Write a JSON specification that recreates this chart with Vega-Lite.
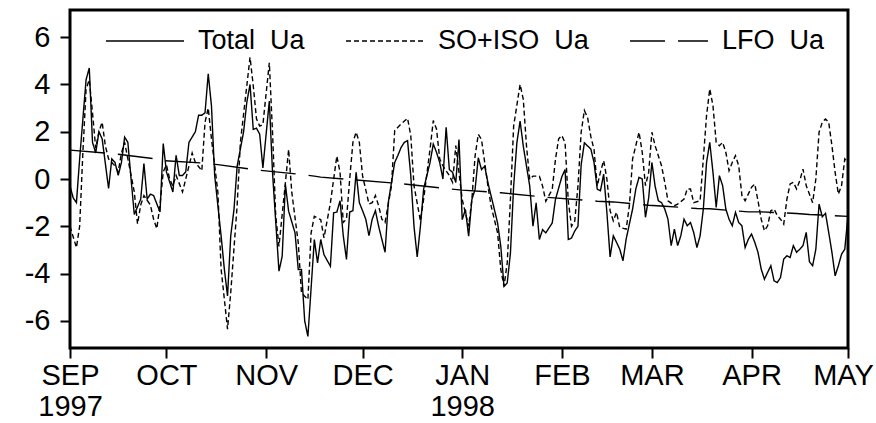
{
  "$schema": "https://vega.github.io/schema/vega-lite/v6.json",
  "width": 778,
  "height": 338,
  "autosize": {"type": "none"},
  "padding": {"left": 70, "top": 10, "right": 28, "bottom": 75},
  "background": "white",
  "config": {
    "view": {"stroke": "black", "strokeWidth": 3},
    "axis": {"grid": false, "domain": false, "tickColor": "black", "tickWidth": 2, "tickSize": 10, "labelColor": "black", "labelFont": "Liberation Sans, sans-serif", "labelFontSize": 29, "title": null}
  },
  "datasets": {
    "total": [
      {"t":"1997-09-01","v":-0.3},{"t":"1997-09-02","v":-0.8},{"t":"1997-09-03","v":-1.0},{"t":"1997-09-04","v":0.85},{"t":"1997-09-06","v":4.2},{"t":"1997-09-07","v":4.7},{"t":"1997-09-08","v":1.55},{"t":"1997-09-09","v":1.1},{"t":"1997-09-10","v":2.0},{"t":"1997-09-11","v":1.7},{"t":"1997-09-13","v":-0.4},{"t":"1997-09-14","v":0.85},{"t":"1997-09-15","v":0.7},{"t":"1997-09-16","v":0.15},{"t":"1997-09-17","v":0.7},{"t":"1997-09-18","v":1.77},{"t":"1997-09-19","v":1.55},{"t":"1997-09-20","v":0},{"t":"1997-09-21","v":-1.5},{"t":"1997-09-23","v":-0.85},{"t":"1997-09-24","v":0.65},{"t":"1997-09-25","v":-0.85},{"t":"1997-09-26","v":-0.64},{"t":"1997-09-27","v":-0.7},{"t":"1997-09-29","v":-1.4},{"t":"1997-09-30","v":1.5},
      {"t":"1997-10-01","v":0.3},{"t":"1997-10-03","v":-0.55},{"t":"1997-10-04","v":1.0},{"t":"1997-10-05","v":0.15},{"t":"1997-10-06","v":0.15},{"t":"1997-10-07","v":0.3},{"t":"1997-10-08","v":1.55},{"t":"1997-10-10","v":2.0},{"t":"1997-10-11","v":2.7},{"t":"1997-10-12","v":2.7},{"t":"1997-10-13","v":2.8},{"t":"1997-10-14","v":4.45},{"t":"1997-10-15","v":3.1},{"t":"1997-10-16","v":0.15},{"t":"1997-10-18","v":-2.4},{"t":"1997-10-19","v":-3.8},{"t":"1997-10-20","v":-4.95},{"t":"1997-10-21","v":-2.4},{"t":"1997-10-22","v":-1.3},{"t":"1997-10-23","v":0.55},{"t":"1997-10-25","v":2.0},{"t":"1997-10-26","v":3.25},{"t":"1997-10-27","v":4.0},{"t":"1997-10-28","v":2.1},{"t":"1997-10-29","v":2.15},{"t":"1997-10-30","v":1.9},{"t":"1997-10-31","v":0.47},
      {"t":"1997-11-02","v":3.3},{"t":"1997-11-03","v":0.26},{"t":"1997-11-05","v":-3.9},{"t":"1997-11-06","v":-3.27},{"t":"1997-11-07","v":-0.23},{"t":"1997-11-08","v":-1.36},{"t":"1997-11-10","v":-2.28},{"t":"1997-11-11","v":-3.83},{"t":"1997-11-12","v":-3.83},{"t":"1997-11-13","v":-6.0},{"t":"1997-11-14","v":-6.66},{"t":"1997-11-16","v":-2.56},{"t":"1997-11-17","v":-3.55},{"t":"1997-11-18","v":-2.56},{"t":"1997-11-19","v":-3.2},{"t":"1997-11-21","v":-3.69},{"t":"1997-11-22","v":-1.43},{"t":"1997-11-23","v":-1.4},{"t":"1997-11-24","v":-0.92},{"t":"1997-11-25","v":-2.4},{"t":"1997-11-26","v":-3.4},{"t":"1997-11-27","v":-1.4},{"t":"1997-11-28","v":-1.34},{"t":"1997-11-29","v":0.28},{"t":"1997-11-30","v":-1.0},
      {"t":"1997-12-01","v":-1.34},{"t":"1997-12-02","v":-1.7},{"t":"1997-12-03","v":-2.4},{"t":"1997-12-04","v":-1.7},{"t":"1997-12-05","v":-1.34},{"t":"1997-12-06","v":-2.0},{"t":"1997-12-08","v":-3.1},{"t":"1997-12-09","v":-1.0},{"t":"1997-12-11","v":0.7},{"t":"1997-12-12","v":1.0},{"t":"1997-12-13","v":1.34},{"t":"1997-12-14","v":1.55},{"t":"1997-12-15","v":1.62},{"t":"1997-12-16","v":0.14},{"t":"1997-12-17","v":-2.0},{"t":"1997-12-18","v":-3.3},{"t":"1997-12-19","v":-2.0},{"t":"1997-12-20","v":-0.42},{"t":"1997-12-22","v":0.7},{"t":"1997-12-23","v":1.48},{"t":"1997-12-24","v":1.13},{"t":"1997-12-25","v":0.7},{"t":"1997-12-26","v":0},{"t":"1997-12-27","v":2.19},{"t":"1997-12-28","v":0.4},{"t":"1997-12-29","v":0.28},{"t":"1997-12-30","v":-0.15},{"t":"1997-12-31","v":1.67},
      {"t":"1998-01-01","v":-1.72},{"t":"1998-01-02","v":-1.29},{"t":"1998-01-03","v":-2.42},{"t":"1998-01-04","v":-0.87},{"t":"1998-01-05","v":-0.44},{"t":"1998-01-06","v":0.9},{"t":"1998-01-07","v":0.4},{"t":"1998-01-08","v":0.54},{"t":"1998-01-09","v":-0.16},{"t":"1998-01-11","v":-1.29},{"t":"1998-01-12","v":-1.86},{"t":"1998-01-13","v":-2.85},{"t":"1998-01-14","v":-4.54},{"t":"1998-01-15","v":-4.4},{"t":"1998-01-16","v":-3.13},{"t":"1998-01-17","v":-0.3},{"t":"1998-01-18","v":1.53},{"t":"1998-01-19","v":2.45},{"t":"1998-01-20","v":1.39},{"t":"1998-01-22","v":-0.3},{"t":"1998-01-23","v":-2.0},{"t":"1998-01-24","v":-1.01},{"t":"1998-01-25","v":-2.56},{"t":"1998-01-26","v":-2.14},{"t":"1998-01-27","v":-2.28},{"t":"1998-01-29","v":-1.86},{"t":"1998-01-30","v":-0.87},
      {"t":"1998-02-01","v":0.1},{"t":"1998-02-02","v":0.4},{"t":"1998-02-03","v":-2.56},{"t":"1998-02-04","v":-2.5},{"t":"1998-02-05","v":-2.2},{"t":"1998-02-06","v":-2.0},{"t":"1998-02-07","v":0.6},{"t":"1998-02-08","v":1.53},{"t":"1998-02-09","v":1.4},{"t":"1998-02-10","v":1.27},{"t":"1998-02-11","v":0.7},{"t":"1998-02-12","v":-0.43},{"t":"1998-02-13","v":-0.5},{"t":"1998-02-14","v":0.21},{"t":"1998-02-15","v":-1.41},{"t":"1998-02-16","v":-3.3},{"t":"1998-02-17","v":-2.4},{"t":"1998-02-18","v":-2.68},{"t":"1998-02-19","v":-2.97},{"t":"1998-02-20","v":-3.46},{"t":"1998-02-21","v":-2.54},{"t":"1998-02-23","v":-1.27},{"t":"1998-02-24","v":-0.42},{"t":"1998-02-25","v":0.07},{"t":"1998-02-26","v":0},{"t":"1998-02-27","v":-1.62},{"t":"1998-02-28","v":-0.8},
      {"t":"1998-03-01","v":0.7},{"t":"1998-03-02","v":-0.3},{"t":"1998-03-03","v":-0.92},{"t":"1998-03-04","v":-1.0},{"t":"1998-03-05","v":-1.27},{"t":"1998-03-06","v":-1.7},{"t":"1998-03-07","v":-2.82},{"t":"1998-03-08","v":-2.12},{"t":"1998-03-09","v":-2.82},{"t":"1998-03-10","v":-2.4},{"t":"1998-03-11","v":-1.7},{"t":"1998-03-12","v":-1.98},{"t":"1998-03-13","v":-1.84},{"t":"1998-03-14","v":-2.26},{"t":"1998-03-15","v":-2.9},{"t":"1998-03-16","v":-2.4},{"t":"1998-03-17","v":-1.27},{"t":"1998-03-18","v":0.7},{"t":"1998-03-19","v":1.55},{"t":"1998-03-20","v":0.28},{"t":"1998-03-21","v":-1.2},{"t":"1998-03-22","v":0.14},{"t":"1998-03-23","v":-0.28},{"t":"1998-03-24","v":-1.27},{"t":"1998-03-25","v":-1.7},{"t":"1998-03-26","v":-1.98},{"t":"1998-03-27","v":-1.41},{"t":"1998-03-28","v":-1.84},{"t":"1998-03-29","v":-1.98},{"t":"1998-03-30","v":-2.9},{"t":"1998-03-31","v":-2.55},
      {"t":"1998-04-01","v":-2.33},{"t":"1998-04-02","v":-2.68},{"t":"1998-04-03","v":-3.1},{"t":"1998-04-04","v":-3.81},{"t":"1998-04-05","v":-4.24},{"t":"1998-04-06","v":-3.95},{"t":"1998-04-07","v":-3.67},{"t":"1998-04-08","v":-4.31},{"t":"1998-04-09","v":-4.38},{"t":"1998-04-10","v":-4.17},{"t":"1998-04-11","v":-3.39},{"t":"1998-04-12","v":-3.25},{"t":"1998-04-13","v":-3.32},{"t":"1998-04-14","v":-2.82},{"t":"1998-04-15","v":-3.1},{"t":"1998-04-16","v":-2.97},{"t":"1998-04-17","v":-2.82},{"t":"1998-04-18","v":-2.26},{"t":"1998-04-19","v":-3.5},{"t":"1998-04-20","v":-3.67},{"t":"1998-04-21","v":-2.97},{"t":"1998-04-22","v":-1.06},{"t":"1998-04-23","v":-1.6},{"t":"1998-04-24","v":-1.45},{"t":"1998-04-25","v":-2.26},{"t":"1998-04-26","v":-3.1},{"t":"1998-04-27","v":-4.1},{"t":"1998-04-28","v":-3.67},{"t":"1998-04-29","v":-3.18},{"t":"1998-04-30","v":-2.97},{"t":"1998-05-01","v":-1.55}
    ],
    "so": [
      {"t":"1997-09-01","v":-2.0},{"t":"1997-09-03","v":-2.9},{"t":"1997-09-04","v":-2.0},{"t":"1997-09-05","v":1.1},{"t":"1997-09-06","v":3.8},{"t":"1997-09-07","v":4.2},{"t":"1997-09-08","v":2.8},{"t":"1997-09-09","v":1.3},{"t":"1997-09-10","v":2.0},{"t":"1997-09-11","v":2.4},{"t":"1997-09-12","v":1.4},{"t":"1997-09-13","v":0.85},{"t":"1997-09-15","v":0.55},{"t":"1997-09-16","v":0.3},{"t":"1997-09-17","v":1.1},{"t":"1997-09-18","v":1.55},{"t":"1997-09-19","v":0.85},{"t":"1997-09-21","v":-0.55},{"t":"1997-09-22","v":-1.9},{"t":"1997-09-23","v":-1.1},{"t":"1997-09-24","v":-0.7},{"t":"1997-09-26","v":-1.1},{"t":"1997-09-27","v":-1.7},{"t":"1997-09-28","v":-2.1},{"t":"1997-09-29","v":-1.1},{"t":"1997-09-30","v":0.3},
      {"t":"1997-10-01","v":0.6},{"t":"1997-10-02","v":0},{"t":"1997-10-03","v":-0.3},{"t":"1997-10-04","v":0.15},{"t":"1997-10-06","v":-0.55},{"t":"1997-10-07","v":0},{"t":"1997-10-09","v":1.1},{"t":"1997-10-10","v":0.7},{"t":"1997-10-12","v":0.35},{"t":"1997-10-13","v":2.4},{"t":"1997-10-14","v":3.0},{"t":"1997-10-15","v":1.7},{"t":"1997-10-17","v":-0.55},{"t":"1997-10-18","v":-3.8},{"t":"1997-10-20","v":-6.35},{"t":"1997-10-21","v":-4.8},{"t":"1997-10-23","v":-1.1},{"t":"1997-10-24","v":1.55},{"t":"1997-10-26","v":3.95},{"t":"1997-10-27","v":5.15},{"t":"1997-10-28","v":3.95},{"t":"1997-10-29","v":2.55},{"t":"1997-10-30","v":2.24},{"t":"1997-10-31","v":2.3},
      {"t":"1997-11-02","v":4.92},{"t":"1997-11-03","v":1.96},{"t":"1997-11-04","v":-1.58},{"t":"1997-11-05","v":-2.85},{"t":"1997-11-07","v":-0.16},{"t":"1997-11-08","v":1.25},{"t":"1997-11-09","v":-0.58},{"t":"1997-11-11","v":-2.7},{"t":"1997-11-12","v":-4.82},{"t":"1997-11-14","v":-5.1},{"t":"1997-11-15","v":-2.28},{"t":"1997-11-16","v":-1.58},{"t":"1997-11-18","v":-1.72},{"t":"1997-11-19","v":-2.49},{"t":"1997-11-21","v":-1.01},{"t":"1997-11-23","v":0.97},{"t":"1997-11-24","v":0.28},{"t":"1997-11-25","v":-1.84},{"t":"1997-11-26","v":-1.7},{"t":"1997-11-27","v":0},{"t":"1997-11-28","v":1.55},{"t":"1997-11-29","v":1.98},{"t":"1997-11-30","v":1.55},
      {"t":"1997-12-01","v":0.14},{"t":"1997-12-03","v":-1.06},{"t":"1997-12-04","v":-1.0},{"t":"1997-12-05","v":-0.7},{"t":"1997-12-06","v":-1.13},{"t":"1997-12-07","v":-1.7},{"t":"1997-12-08","v":-1.84},{"t":"1997-12-10","v":-0.28},{"t":"1997-12-11","v":2.05},{"t":"1997-12-12","v":2.19},{"t":"1997-12-13","v":2.33},{"t":"1997-12-15","v":2.57},{"t":"1997-12-16","v":1.84},{"t":"1997-12-17","v":-0.28},{"t":"1997-12-19","v":-1.77},{"t":"1997-12-20","v":-0.85},{"t":"1997-12-22","v":1.27},{"t":"1997-12-23","v":2.47},{"t":"1997-12-24","v":2.12},{"t":"1997-12-25","v":0.85},{"t":"1997-12-26","v":0.56},{"t":"1997-12-28","v":0.14},{"t":"1997-12-29","v":-0.14},{"t":"1997-12-30","v":1.41},
      {"t":"1998-01-01","v":-0.87},{"t":"1998-01-03","v":-2.0},{"t":"1998-01-04","v":-0.87},{"t":"1998-01-05","v":0.97},{"t":"1998-01-06","v":1.89},{"t":"1998-01-07","v":1.67},{"t":"1998-01-08","v":0.69},{"t":"1998-01-09","v":-0.3},{"t":"1998-01-10","v":-1.15},{"t":"1998-01-12","v":-2.28},{"t":"1998-01-13","v":-3.83},{"t":"1998-01-14","v":-4.54},{"t":"1998-01-15","v":-3.55},{"t":"1998-01-16","v":-0.87},{"t":"1998-01-17","v":2.24},{"t":"1998-01-19","v":4.0},{"t":"1998-01-20","v":3.37},{"t":"1998-01-21","v":1.39},{"t":"1998-01-22","v":-0.02},{"t":"1998-01-23","v":0.12},{"t":"1998-01-25","v":0.12},{"t":"1998-01-26","v":-0.3},{"t":"1998-01-27","v":-0.94},{"t":"1998-01-29","v":-0.44},{"t":"1998-01-30","v":0.83},{"t":"1998-01-31","v":1.7},
      {"t":"1998-02-01","v":1.84},{"t":"1998-02-02","v":1.53},{"t":"1998-02-03","v":-0.95},{"t":"1998-02-04","v":-2.0},{"t":"1998-02-05","v":-1.79},{"t":"1998-02-06","v":-0.3},{"t":"1998-02-07","v":1.98},{"t":"1998-02-08","v":2.9},{"t":"1998-02-09","v":2.6},{"t":"1998-02-10","v":1.8},{"t":"1998-02-11","v":1.25},{"t":"1998-02-12","v":-0.3},{"t":"1998-02-13","v":0.3},{"t":"1998-02-14","v":0.78},{"t":"1998-02-15","v":0},{"t":"1998-02-16","v":-1.34},{"t":"1998-02-17","v":-1.77},{"t":"1998-02-18","v":-1.41},{"t":"1998-02-19","v":-2.05},{"t":"1998-02-21","v":-2.12},{"t":"1998-02-22","v":-1.13},{"t":"1998-02-23","v":0.85},{"t":"1998-02-25","v":1.98},{"t":"1998-02-26","v":1.13},{"t":"1998-02-27","v":-0.28},{"t":"1998-02-28","v":0.28},
      {"t":"1998-03-01","v":1.98},{"t":"1998-03-02","v":1.41},{"t":"1998-03-04","v":0.56},{"t":"1998-03-05","v":-0.14},{"t":"1998-03-06","v":-0.92},{"t":"1998-03-08","v":-1.13},{"t":"1998-03-09","v":-1.06},{"t":"1998-03-11","v":-0.85},{"t":"1998-03-12","v":-0.42},{"t":"1998-03-13","v":-0.42},{"t":"1998-03-14","v":-1.0},{"t":"1998-03-16","v":-0.92},{"t":"1998-03-17","v":0.85},{"t":"1998-03-18","v":2.68},{"t":"1998-03-19","v":3.81},{"t":"1998-03-20","v":3.1},{"t":"1998-03-21","v":1.55},{"t":"1998-03-22","v":1.41},{"t":"1998-03-23","v":1.55},{"t":"1998-03-24","v":1.13},{"t":"1998-03-25","v":0.35},{"t":"1998-03-26","v":0.7},{"t":"1998-03-27","v":0.99},{"t":"1998-03-28","v":0.56},{"t":"1998-03-29","v":-0.7},{"t":"1998-03-30","v":-0.92},
      {"t":"1998-04-01","v":-0.35},{"t":"1998-04-02","v":-0.21},{"t":"1998-04-03","v":-0.92},{"t":"1998-04-04","v":-1.7},{"t":"1998-04-05","v":-2.19},{"t":"1998-04-06","v":-1.98},{"t":"1998-04-07","v":-1.34},{"t":"1998-04-08","v":-1.27},{"t":"1998-04-09","v":-1.55},{"t":"1998-04-10","v":-1.7},{"t":"1998-04-11","v":-1.91},{"t":"1998-04-12","v":-0.85},{"t":"1998-04-13","v":-0.21},{"t":"1998-04-14","v":-0.14},{"t":"1998-04-15","v":-0.42},{"t":"1998-04-16","v":-0.07},{"t":"1998-04-17","v":0.42},{"t":"1998-04-18","v":-0.28},{"t":"1998-04-20","v":-1.0},{"t":"1998-04-21","v":0},{"t":"1998-04-22","v":1.98},{"t":"1998-04-23","v":2.4},{"t":"1998-04-24","v":2.54},{"t":"1998-04-25","v":2.4},{"t":"1998-04-26","v":1.41},{"t":"1998-04-27","v":0.28},{"t":"1998-04-28","v":-0.64},{"t":"1998-04-29","v":-0.28},{"t":"1998-04-30","v":0.85},{"t":"1998-05-01","v":0.7}
    ],
    "lfo": [
      {"t":"1997-09-01","v":1.22},{"t":"1997-09-16","v":1.05},{"t":"1997-09-27","v":0.86},{"t":"1997-09-30","v":0.78},{"t":"1997-10-12","v":0.68},{"t":"1997-10-17","v":0.61},{"t":"1997-10-28","v":0.4},{"t":"1997-11-12","v":0.19},{"t":"1997-11-16","v":0.12},{"t":"1997-11-18","v":0.08},{"t":"1997-12-13","v":-0.2},{"t":"1997-12-28","v":-0.42},{"t":"1998-01-01","v":-0.47},{"t":"1998-01-13","v":-0.58},{"t":"1998-01-27","v":-0.77},{"t":"1998-02-12","v":-0.94},{"t":"1998-02-17","v":-0.97},{"t":"1998-02-28","v":-1.11},{"t":"1998-03-05","v":-1.15},{"t":"1998-03-15","v":-1.25},{"t":"1998-03-19","v":-1.26},{"t":"1998-03-31","v":-1.39},{"t":"1998-04-04","v":-1.39},{"t":"1998-04-15","v":-1.46},{"t":"1998-04-19","v":-1.5},{"t":"1998-05-01","v":-1.58}
    ]
  },
  "encoding": {
    "x": {
      "field": "t", "type": "temporal",
      "scale": {"type": "utc", "domain": [{"year": 1997, "month": 9, "date": 1, "utc": true}, {"year": 1998, "month": 5, "date": 1, "utc": true}], "nice": false},
      "axis": {
        "values": [
          {"year": 1997, "month": 9, "date": 1, "utc": true}, {"year": 1997, "month": 10, "date": 1, "utc": true}, {"year": 1997, "month": 11, "date": 1, "utc": true}, {"year": 1997, "month": 12, "date": 1, "utc": true},
          {"year": 1998, "month": 1, "date": 1, "utc": true}, {"year": 1998, "month": 2, "date": 1, "utc": true}, {"year": 1998, "month": 3, "date": 1, "utc": true}, {"year": 1998, "month": 4, "date": 1, "utc": true}, {"year": 1998, "month": 5, "date": 1, "utc": true}
        ],
        "labelExpr": "(utcmonth(datum.value) == 8 || utcmonth(datum.value) == 0) ? [upper(utcFormat(datum.value, '%b')), utcFormat(datum.value, '%Y')] : upper(utcFormat(datum.value, '%b'))",
        "labelOffset": {"condition": {"test": "utcmonth(datum.value) == 4", "value": -5}, "value": 0},
        "labelPadding": 3, "labelLineHeight": 31, "labelFlush": false, "labelOverlap": false
      }
    },
    "y": {
      "field": "v", "type": "quantitative",
      "scale": {"domain": [-7.15, 7.15], "nice": false, "zero": false},
      "axis": {"values": [-6, -4, -2, 0, 2, 4, 6], "labelExpr": "'' + datum.value", "labelPadding": 10}
    },
    "strokeDash": {
      "scale": {"domain": ["Total Ua", "SO+ISO Ua", "LFO Ua"], "range": [[1, 0], [5, 3], [35, 13]]},
      "legend": {
        "orient": "none", "legendX": 35, "legendY": -9, "direction": "horizontal", "title": null,
        "symbolType": "stroke", "symbolSize": 6084, "symbolStrokeWidth": 1.3, "symbolStrokeColor": "black",
        "labelExpr": "replace(datum.label, ' ', '\u00a0 ')",
        "labelFont": "Liberation Sans, sans-serif", "labelFontSize": 27, "labelColor": "black", "labelOffset": 13, "columnPadding": 38, "labelLimit": 300
      }
    }
  },
  "layer": [
    {"data": {"values": [{}]}, "mark": {"type": "rule", "color": "black", "strokeWidth": 1}, "encoding": {"y": {"datum": 0}, "x": null, "strokeDash": null}},
    {"data": {"name": "lfo"}, "mark": {"type": "line", "color": "black", "strokeWidth": 1.4}, "encoding": {"strokeDash": {"datum": "LFO Ua"}}},
    {"data": {"name": "so"}, "mark": {"type": "line", "color": "black", "strokeWidth": 1.4}, "encoding": {"strokeDash": {"datum": "SO+ISO Ua"}}},
    {"data": {"name": "total"}, "mark": {"type": "line", "color": "black", "strokeWidth": 1.4}, "encoding": {"strokeDash": {"datum": "Total Ua"}}}
  ]
}
